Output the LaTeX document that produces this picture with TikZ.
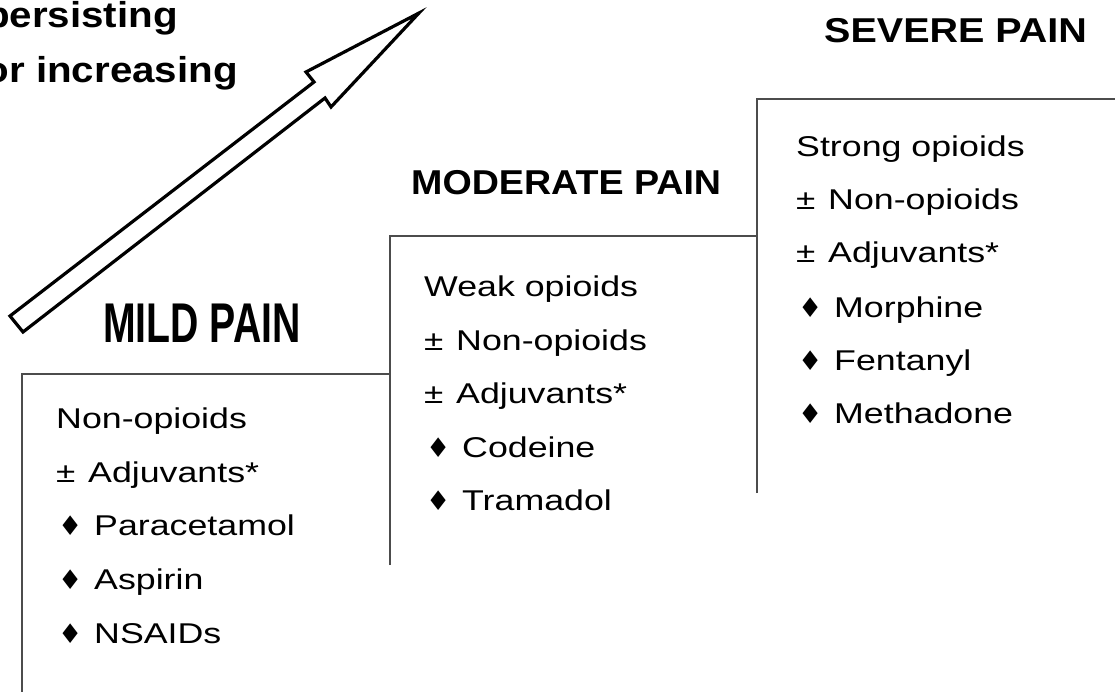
\documentclass[tikz,border=0pt]{standalone}
\usepackage{fontspec}
\setmainfont{Liberation Sans}
\newfontfamily\bodyfont[FakeStretch=1.25]{Liberation Sans}
\newfontfamily\headfont[FakeStretch=1.09]{Liberation Sans}
\newfontfamily\severefont[FakeStretch=1.145]{Liberation Sans}
\newfontfamily\captfont[FakeStretch=1.12]{Liberation Sans}
\newfontfamily\mildfont[FakeStretch=0.70]{Liberation Sans}
\newfontfamily\symfont{DejaVu Sans}

% list markers: a plus-minus sign or a small black diamond, set in fixed-width boxes
\newcommand{\pmitem}[1]{\makebox[32pt][l]{\fontsize{28}{28}\selectfont ±}#1}
\newcommand{\dmitem}[1]{\makebox[38pt][l]{\hspace{2pt}\raisebox{0pt}{\symfont\fontsize{27}{27}\selectfont ♦}}#1}

\begin{document}
\begin{tikzpicture}[x=1pt,y=-1pt,
  stepline/.style={draw=black!70,line width=1.1pt},
  item/.style={anchor=base west,inner sep=0pt,font=\bodyfont\fontsize{28.6}{30}\selectfont},
  head/.style={anchor=base west,inner sep=0pt,font=\headfont\bfseries\fontsize{34.5}{36}\selectfont},
  capt/.style={anchor=base east,inner sep=0pt,font=\captfont\bfseries\fontsize{36}{38}\selectfont},
  bigarrow/.style={draw=black,fill=white,line width=3.2pt,line join=miter}]
\useasboundingbox (0,0) rectangle (1115,692);

% the three steps of the ladder
\coordinate (s1b) at (22,692);
\coordinate (s1c) at (22,374);
\coordinate (s1e) at (390,374);
\coordinate (s2b) at (390,565);
\coordinate (s2c) at (390,236);
\coordinate (s2e) at (757,236);
\coordinate (s3b) at (757,493);
\coordinate (s3c) at (757,99);
\coordinate (s3e) at (1115,99);
\draw[stepline] (s1b) -- (s1c) -- (s1e);
\draw[stepline] (s2b) -- (s2c) -- (s2e);
\draw[stepline] (s3b) -- (s3c) -- (s3e);

% hollow arrow climbing the ladder
\draw[bigarrow] (10,316) -- (314,82) -- (306,72) -- (419,13) -- (331,107)
  -- (325,98) -- (23,332) -- cycle;

% caption above the arrow
\node[capt] (cap1) at (178,28) {persisting};
\node[capt] (cap2) at (238,83) {or increasing};

% step titles
\node[anchor=base west,inner sep=0pt,font=\mildfont\bfseries\fontsize{56}{58}\selectfont] (mild) at (103,342) {MILD PAIN};
\node[head] (moderate) at (411,195) {MODERATE PAIN};
\node[head,font=\severefont\bfseries\fontsize{34.5}{36}\selectfont] (severe) at (824,43) {SEVERE PAIN};

% step 1
\node[item] (m1) at (56,428) {Non-opioids};
\node[item] (m2) at (56,482) {\pmitem{Adjuvants*}};
\node[item] (m3) at (56,535) {\dmitem{Paracetamol}};
\node[item] (m4) at (56,589) {\dmitem{Aspirin}};
\node[item] (m5) at (56,643) {\dmitem{NSAIDs}};

% step 2
\node[item] (w1) at (424,296) {Weak opioids};
\node[item] (w2) at (424,350) {\pmitem{Non-opioids}};
\node[item] (w3) at (424,403) {\pmitem{Adjuvants*}};
\node[item] (w4) at (424,457) {\dmitem{Codeine}};
\node[item] (w5) at (424,510) {\dmitem{Tramadol}};

% step 3
\node[item] (o1) at (796,157) {Strong opioids};
\node[item] (o2) at (796,210) {\pmitem{Non-opioids}};
\node[item] (o3) at (796,263) {\pmitem{Adjuvants*}};
\node[item] (o4) at (796,317) {\dmitem{Morphine}};
\node[item] (o5) at (796,370) {\dmitem{Fentanyl}};
\node[item] (o6) at (796,423) {\dmitem{Methadone}};
\end{tikzpicture}
\end{document}
